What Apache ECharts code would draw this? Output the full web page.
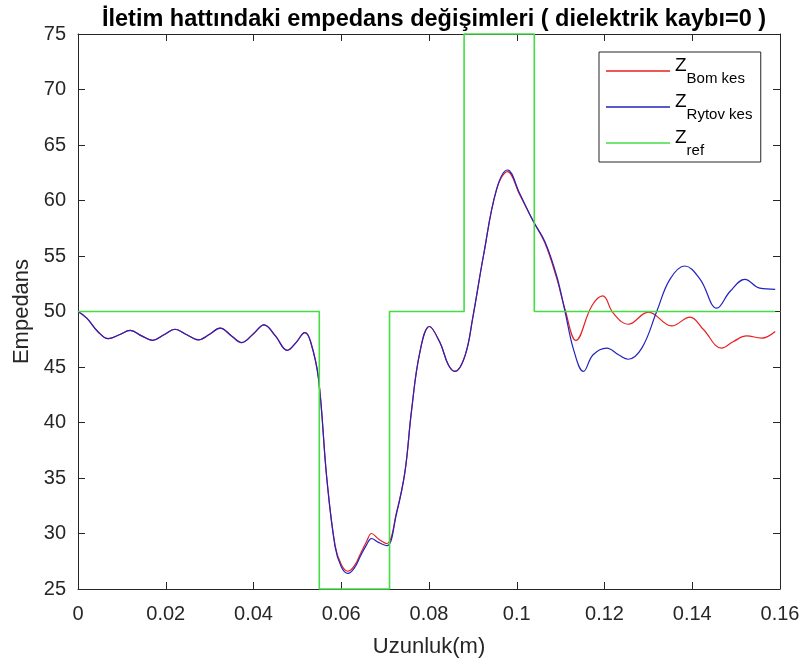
<!DOCTYPE html>
<html>
<head>
<meta charset="utf-8">
<script src="https://cdn.jsdelivr.net/npm/echarts@6/dist/echarts.min.js"></script>
<style>
  html,body{margin:0;padding:0;background:#fff;}
  #chart{width:806px;height:664px;}
</style>
</head>
<body>
<div id="chart"></div>
<script>
// Z_Rytov kes (blue)
const xRytov = [0,0.002,0.0045,0.0069,0.0094,0.0119,0.0145,0.017,0.0196,0.0221,0.0248,0.0274,0.03,0.0324,0.035,0.0373,0.04,0.0424,0.045,0.0477,0.0497,0.0517,0.053,0.0548,0.0567,0.0586,0.06,0.0615,0.063,0.0643,0.0658,0.0669,0.0685,0.0704,0.0726,0.0745,0.076,0.0779,0.0801,0.0825,0.0844,0.0859,0.0882,0.09,0.0924,0.0954,0.0979,0.1007,0.1038,0.1064,0.1091,0.111,0.113,0.1152,0.1174,0.1205,0.1232,0.1254,0.1285,0.1319,0.1349,0.1383,0.1418,0.1456,0.1486,0.152,0.1554,0.1589]
const yRytov = [50,49.4,48.2,47.55,47.9,48.3,47.8,47.4,47.9,48.4,47.9,47.45,47.95,48.5,47.8,47.2,48.0,48.8,47.8,46.5,47.2,48.1,47.3,44,35,28.8,27.0,26.4,26.9,27.9,29.0,29.55,29.2,28.9,31.8,35.5,41,46.3,48.65,47.2,45.2,44.6,46,49.5,55,61,62.75,60.6,58.1,56.3,53.2,50.0,46.5,44.6,46.1,46.7,46.1,45.7,46.7,50,52.9,54.1,52.9,50.3,51.8,52.9,52.1,52.0]

// Z_Bom kes (red)
const xBom = [0,0.002,0.0045,0.0069,0.0094,0.0119,0.0145,0.017,0.0196,0.0221,0.0248,0.0274,0.03,0.0324,0.035,0.0373,0.04,0.0424,0.045,0.0477,0.0497,0.0517,0.053,0.0548,0.0567,0.0586,0.06,0.0615,0.063,0.0643,0.0658,0.0669,0.0685,0.0704,0.0726,0.0745,0.076,0.0779,0.0801,0.0825,0.0844,0.0859,0.0882,0.09,0.0924,0.0954,0.0979,0.1007,0.1038,0.1064,0.1091,0.111,0.1135,0.1171,0.1196,0.122,0.1254,0.13,0.1353,0.1395,0.1425,0.1467,0.1494,0.1524,0.1558,0.1589]
const yBom = [50,49.4,48.2,47.55,47.9,48.3,47.8,47.4,47.9,48.4,47.9,47.45,47.95,48.5,47.8,47.2,48.0,48.8,47.8,46.5,47.2,48.1,47.3,44,35,28.9,27.2,26.6,27.1,28.1,29.3,30.0,29.5,29.1,31.9,35.5,41,46.3,48.65,47.2,45.2,44.6,46,49.5,55,61,62.6,60.5,58.1,56.2,53.0,50.2,47.4,50.5,51.4,49.85,48.85,49.95,48.7,49.5,48.4,46.7,47.3,47.8,47.6,48.2]

// Z_ref (green step)
const xRef = [0,0.055,0.055,0.071,0.071,0.088,0.088,0.104,0.104,0.1589]
const yRef = [50,50,25,25,50,50,75,75,50,50]

const xTicks = [0,0.02,0.04,0.06,0.08,0.1,0.12,0.14,0.16]
const yTicks = [25,30,35,40,45,50,55,60,65,70,75]

const font = "'Liberation Sans', Arial, Helvetica, sans-serif"
const axisColor = '#262626'

function pairs(xs, ys){
  return xs.map((x,i) => [x, ys[i]])
}

let chart = echarts.init(document.getElementById('chart'))

let axisX = {
  type:'value',
  min:xTicks[0],
  max:xTicks[xTicks.length-1],
  interval:0.02,
  splitLine:{show:false},
  axisLine:{show:true, onZero:false, lineStyle:{color:axisColor, width:1}},
  axisTick:{show:true, inside:true, length:7, lineStyle:{color:axisColor}}
}
let axisY = {
  type:'value',
  min:yTicks[0],
  max:yTicks[yTicks.length-1],
  interval:5,
  splitLine:{show:false},
  axisLine:{show:true, onZero:false, lineStyle:{color:axisColor, width:1}},
  axisTick:{show:true, inside:true, length:7, lineStyle:{color:axisColor}}
}

let option = {
  animation:false,
  backgroundColor:'#fff',
  title:{
    text:'İletim hattındaki empedans değişimleri ( dielektrik kaybı=0 )',
    left:429,
    textAlign:'center',
    top:3,
    textStyle:{fontFamily:font, fontSize:23.5, fontWeight:'bold', color:'#000'}
  },
  grid:{left:78, right:26, top:34, bottom:75},
  legend:{
    orient:'vertical',
    left:599,
    top:52,
    padding:[4,8,4,7],
    itemGap:6,
    itemWidth:64,
    itemHeight:1.5,
    icon:'rect',
    backgroundColor:'#fff',
    borderColor:axisColor,
    borderWidth:1,
    borderRadius:0,
    data:['Bom kes','Rytov kes','ref'],
    formatter:function(name){
      return '{z|Z}{s|' + name + '}{h| }'
    },
    textStyle:{
      fontFamily:font,
      color:'#000',
      rich:{
        z:{fontFamily:font, fontSize:19, lineHeight:25, verticalAlign:'top', color:'#000'},
        s:{fontFamily:font, fontSize:15, lineHeight:16, verticalAlign:'bottom', color:'#000'},
        h:{fontSize:1, lineHeight:30, width:0}
      }
    }
  },
  xAxis:[
    Object.assign({}, axisX, {
      position:'bottom',
      name:'Uzunluk(m)',
      nameLocation:'middle',
      nameGap:47,
      nameTextStyle:{fontFamily:font, fontSize:22, color:axisColor},
      axisLabel:{fontFamily:font, fontSize:20, color:axisColor, margin:15}
    }),
    Object.assign({}, axisX, {position:'top', axisLabel:{show:false}})
  ],
  yAxis:[
    Object.assign({}, axisY, {
      position:'left',
      name:'Empedans',
      nameLocation:'middle',
      nameGap:38,
      nameTextStyle:{fontFamily:font, fontSize:22, color:axisColor},
      axisLabel:{fontFamily:font, fontSize:20, color:axisColor, margin:12}
    }),
    Object.assign({}, axisY, {position:'right', axisLabel:{show:false}})
  ],
  series:[
    {
      name:'Bom kes',
      type:'line',
      smooth:0.4,
      showSymbol:false,
      symbol:'none',
      clip:false,
      color:'#e81f1f',
      lineStyle:{width:1.2, color:'#e81f1f'},
      data:pairs(xBom, yBom)
    },
    {
      name:'Rytov kes',
      type:'line',
      smooth:0.4,
      showSymbol:false,
      symbol:'none',
      clip:false,
      color:'#2222c0',
      lineStyle:{width:1.2, color:'#2222c0'},
      data:pairs(xRytov, yRytov)
    },
    {
      name:'ref',
      type:'line',
      showSymbol:false,
      symbol:'none',
      clip:false,
      color:'#44dd44',
      lineStyle:{width:1.6, color:'#44dd44'},
      data:pairs(xRef, yRef)
    }
  ]
}
chart.setOption(option)
</script>
</body>
</html>
